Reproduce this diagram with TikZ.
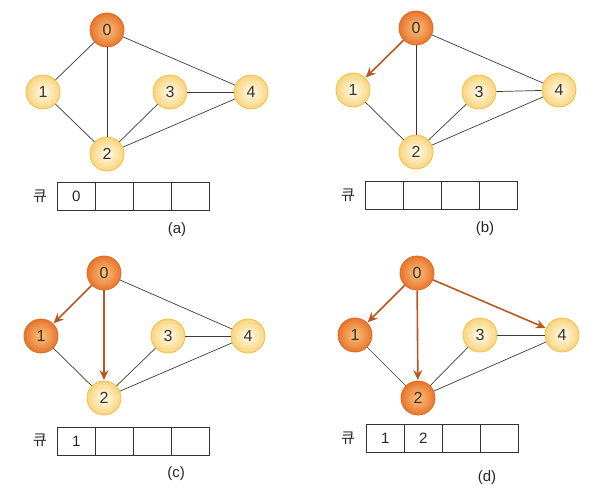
\documentclass[tikz,border=0pt]{standalone}
\usepackage{fontspec}
\setmainfont{Liberation Sans}
\newfontfamily\kfont{Noto Sans CJK KR}
\usetikzlibrary{arrows.meta}
\definecolor{edgec}{HTML}{3A3A3A}
\definecolor{arrc}{HTML}{B9581E}
\definecolor{orin}{HTML}{FBC27E}
\definecolor{orout}{HTML}{E8752C}
\definecolor{orbd}{HTML}{E0691F}
\definecolor{yein}{HTML}{FFFCEE}
\definecolor{yeout}{HTML}{F9D47C}
\definecolor{yebd}{HTML}{F1C04A}
\tikzset{
  vtx/.style={circle, minimum size=34pt, inner sep=0pt, font=\fontsize{16}{16}\selectfont, text=black!80},
  yel/.style={vtx, draw=yebd, line width=0.8pt, inner color=yein, outer color=yeout},
  org/.style={vtx, draw=orbd, line width=0.8pt, inner color=orin, outer color=orout},
  edg/.style={draw=edgec, line width=0.7pt},
  arr/.style={draw=arrc, line width=1.6pt, -{Stealth[length=10pt,width=9pt,inset=3.5pt]}, shorten >=0.5pt},
  cell/.style={draw=black!80, line width=0.6pt, minimum width=38pt, minimum height=28pt, inner sep=0pt, anchor=north west, font=\fontsize{15}{15}\selectfont, text=black!85},
  qlab/.style={font=\kfont\fontsize{15}{15}\selectfont, text=black!85},
  plab/.style={font=\fontsize{15}{15}\selectfont, text=black!85}
}
\begin{document}
\begin{tikzpicture}[x=1pt,y=-1pt]
\useasboundingbox (0,0) rectangle (610,492);
% ---------- panel (a) ----------
\begin{scope}[shift={(107,30)}]
  \node[org] (a0) at (0,0) {0};
  \node[yel] (a1) at (-64,62) {1};
  \node[yel] (a2) at (0,124) {2};
  \node[yel] (a3) at (63,62) {3};
  \node[yel] (a4) at (144,62) {4};
  \draw[edg] (a0) -- (a1);
  \draw[edg] (a0) -- (a2);
  \draw[edg] (a0) -- (a4);
  \draw[edg] (a1) -- (a2);
  \draw[edg] (a2) -- (a3);
  \draw[edg] (a2) -- (a4);
  \draw[edg] (a3) -- (a4);
  \node[cell] (aq1) at (-50,152) {0};
  \node[cell] (aq2) at (-12,152) {};
  \node[cell] (aq3) at (26,152) {};
  \node[cell] (aq4) at (64,152) {};
  \node[qlab] (ak) at (-67,166) {큐};
  \node[plab] (al) at (70,200) {(a)};
\end{scope}
% ---------- panel (b) ----------
\begin{scope}[shift={(416,28)}]
  \node[org] (b0) at (0,0) {0};
  \node[yel] (b1) at (-63,62) {1};
  \node[yel] (b2) at (0,124) {2};
  \node[yel] (b3) at (63,64) {3};
  \node[yel] (b4) at (143,62) {4};
  \draw[arr] (b0) -- (b1);
  \draw[edg] (b0) -- (b2);
  \draw[edg] (b0) -- (b4);
  \draw[edg] (b1) -- (b2);
  \draw[edg] (b2) -- (b3);
  \draw[edg] (b2) -- (b4);
  \draw[edg] (b3) -- (b4);
  \node[cell] (bq1) at (-51,153) {};
  \node[cell] (bq2) at (-13,153) {};
  \node[cell] (bq3) at (25,153) {};
  \node[cell] (bq4) at (63,153) {};
  \node[qlab] (bk) at (-68,167) {큐};
  \node[plab] (bl) at (69,201) {(b)};
\end{scope}
% ---------- panel (c) ----------
\begin{scope}[shift={(104,273)}]
  \node[org] (c0) at (0,0) {0};
  \node[org] (c1) at (-63,63) {1};
  \node[yel] (c2) at (0,125) {2};
  \node[yel] (c3) at (64,63) {3};
  \node[yel] (c4) at (144,63) {4};
  \draw[arr] (c0) -- (c1);
  \draw[arr] (c0) -- (c2);
  \draw[edg] (c0) -- (c4);
  \draw[edg] (c1) -- (c2);
  \draw[edg] (c2) -- (c3);
  \draw[edg] (c2) -- (c4);
  \draw[edg] (c3) -- (c4);
  \node[cell] (cq1) at (-47,154) {1};
  \node[cell] (cq2) at (-9,154) {};
  \node[cell] (cq3) at (29,154) {};
  \node[cell] (cq4) at (67,154) {};
  \node[qlab] (ck) at (-64,167) {큐};
  \node[plab] (cl) at (72,201) {(c)};
\end{scope}
% ---------- panel (d) ----------
\begin{scope}[shift={(417,273)}]
  \node[org] (d0) at (0,0) {0};
  \node[org] (d1) at (-62,62) {1};
  \node[org] (d2) at (1,125) {2};
  \node[yel] (d3) at (63,62) {3};
  \node[yel] (d4) at (145,62) {4};
  \draw[arr] (d0) -- (d1);
  \draw[arr] (d0) -- (d2);
  \draw[arr] (d0) -- (d4);
  \draw[edg] (d1) -- (d2);
  \draw[edg] (d2) -- (d3);
  \draw[edg] (d2) -- (d4);
  \draw[edg] (d3) -- (d4);
  \node[cell] (dq1) at (-51,151) {1};
  \node[cell] (dq2) at (-13,151) {2};
  \node[cell] (dq3) at (25,151) {};
  \node[cell] (dq4) at (63,151) {};
  \node[qlab] (dk) at (-69,165) {큐};
  \node[plab] (dl) at (70,205) {(d)};
\end{scope}
\end{tikzpicture}
\end{document}
